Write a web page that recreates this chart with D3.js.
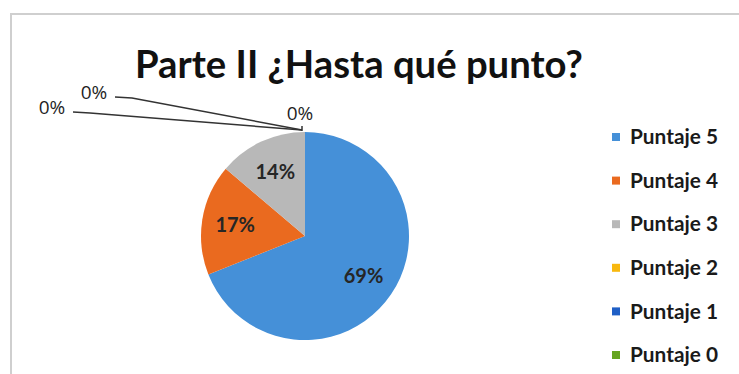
<!DOCTYPE html>
<html>
<head>
<meta charset="utf-8">
<script src="https://cdn.jsdelivr.net/npm/d3@7"></script>
<style>
  html, body { margin: 0; padding: 0; background: #fff; }
  svg { display: block; }
</style>
</head>
<body>
<svg id="chart" width="739" height="374"></svg>
<script>
// Respuestas por puntaje (número de respuestas)
const categories = ["Puntaje 5", "Puntaje 4", "Puntaje 3", "Puntaje 2", "Puntaje 1", "Puntaje 0"];
const counts = [20, 5, 4, 0, 0, 0];
const colors = ["#4590d8", "#ea6a1f", "#b8b8b8", "#f8b80f", "#1f5fc6", "#66a521"];
const title = "Parte II ¿Hasta qué punto?";

const svg = d3.select("#chart");
const W = 739, H = 374;
const FONT = "Lato, 'Open Sans', sans-serif";

// chart frame
svg.append("path")
  .attr("d", `M11,${H + 2} L11,14 L${W + 2},14`)
  .attr("fill", "none")
  .attr("stroke", "#cfcfcf")
  .attr("stroke-width", 2);

// fit a text element to a target width by scaling its font size
function fitWidth(sel, target) {
  const node = sel.node();
  const fs = parseFloat(sel.attr("font-size"));
  const w = node.getComputedTextLength();
  sel.attr("font-size", (fs * target / w).toFixed(2));
}

const t = svg.append("text")
  .attr("x", 359).attr("y", 78)
  .attr("text-anchor", "middle")
  .attr("font-family", FONT)
  .attr("font-weight", 700)
  .attr("font-size", 34)
  .attr("fill", "#111")
  .text(title);
fitWidth(t, 448);

// pie
const cx = 305, cy = 236, r = 104;
const total = d3.sum(counts);
const pie = d3.pie().sort(null).value(d => d.value);
const arcs = pie(categories.map((c, i) => ({ cat: c, value: counts[i], color: colors[i] })));
const arc = d3.arc().innerRadius(0).outerRadius(r);
const labelArc = d3.arc().innerRadius(r * 0.68).outerRadius(r * 0.68);

const g = svg.append("g").attr("transform", `translate(${cx},${cy})`);
g.selectAll("path.slice")
  .data(arcs)
  .join("path")
  .attr("class", "slice")
  .attr("d", arc)
  .attr("fill", d => d.data.color);

const pct = d => Math.round(d.data.value / total * 100) + "%";

// labels inside non-empty slices
g.selectAll("text.inner")
  .data(arcs.filter(d => d.data.value > 0))
  .join("text")
  .attr("class", "inner")
  .attr("transform", d => `translate(${labelArc.centroid(d)})`)
  .attr("text-anchor", "middle")
  .attr("dy", "0.35em")
  .attr("font-family", FONT)
  .attr("font-weight", 700)
  .attr("font-size", 20)
  .attr("fill", "#262626")
  .text(pct);

// empty slices: labels outside with leader lines
const zeroOffsets = [
  { dx: -2, dy: -17, line: false },
  { dx: -208, dy: -38, line: true },
  { dx: -250, dy: -23, line: true }
];
const zeros = arcs.filter(d => d.data.value === 0);
zeros.forEach((d, i) => {
  const a = d.startAngle;
  const ax = Math.sin(a) * r - 3, ay = -Math.cos(a) * r - 2;
  const o = zeroOffsets[i];
  const lx = ax + o.dx, ly = ay + o.dy;
  if (o.line) {
    g.append("polyline")
      .attr("points", `${lx + 21},${ly + 5} ${lx + 38},${ly + 6} ${ax},${ay}`)
      .attr("fill", "none")
      .attr("stroke", "#333")
      .attr("stroke-width", 1.5);
  } else {
    g.append("line")
      .attr("x1", ax).attr("y1", ay + 1).attr("x2", ax).attr("y2", ay - 4)
      .attr("stroke", "#333").attr("stroke-width", 1.5);
  }
  g.append("text")
    .attr("x", lx).attr("y", ly)
    .attr("text-anchor", "middle")
    .attr("dy", "0.35em")
    .attr("font-family", "'Open Sans', sans-serif")
    .attr("font-weight", 500)
    .attr("font-size", 19)
    .attr("fill", "#1f1f1f")
    .text(pct(d));
});

// legend
const legend = svg.append("g");
const rowY = d3.scalePoint().domain(categories).range([137, 355]);
categories.forEach((c, i) => {
  const y = rowY(c);
  legend.append("rect")
    .attr("x", 612).attr("y", y - 4).attr("width", 8).attr("height", 8)
    .attr("fill", colors[i]);
  const lt = legend.append("text")
    .attr("x", 630).attr("y", y)
    .attr("dy", "0.35em")
    .attr("font-family", FONT)
    .attr("font-weight", 700)
    .attr("font-size", 17)
    .attr("fill", "#1a1a1a")
    .text(c);
  fitWidth(lt, 88);
});
</script>
</body>
</html>
